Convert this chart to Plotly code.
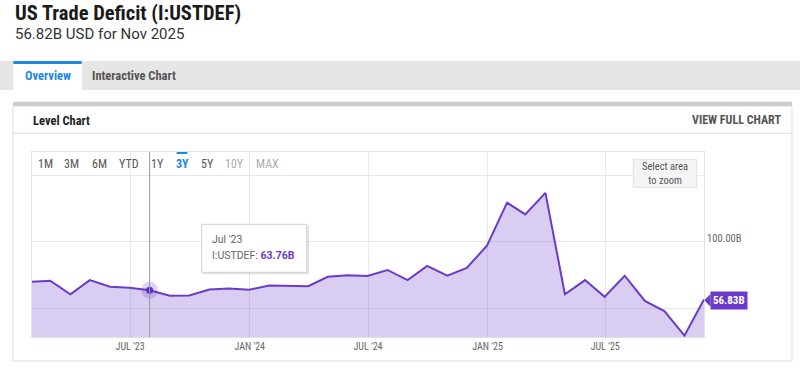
import plotly.graph_objects as go

# ---------------- data ----------------
dates = [
    "2023-01-31", "2023-02-28", "2023-03-31", "2023-04-30", "2023-05-31", "2023-06-30",
    "2023-07-31", "2023-08-31", "2023-09-30", "2023-10-31", "2023-11-30", "2023-12-31",
    "2024-01-31", "2024-02-29", "2024-03-31", "2024-04-30", "2024-05-31", "2024-06-30",
    "2024-07-31", "2024-08-31", "2024-09-30", "2024-10-31", "2024-11-30", "2024-12-31",
    "2025-01-31", "2025-02-28", "2025-03-31", "2025-04-30", "2025-05-31", "2025-06-30",
    "2025-07-31", "2025-08-31", "2025-09-30", "2025-10-31", "2025-11-30",
]
values = [
    70.2, 70.9, 60.8, 71.4, 66.4, 65.6,
    63.76, 59.6, 59.9, 64.4, 65.1, 64.1,
    67.4, 66.9, 66.8, 73.9, 75.1, 74.5,
    79.0, 71.4, 82.0, 74.7, 80.5, 97.2,
    129.5, 120.7, 136.8, 60.8, 71.4, 58.8,
    74.7, 55.8, 48.2, 29.8, 56.83,
]
x_tick_vals = ["2023-07-01", "2024-01-01", "2024-07-01", "2025-01-01", "2025-07-01"]
x_tick_text = ["JUL '23", "JAN '24", "JUL '24", "JAN '25", "JUL '25"]
y_tick_vals = [50, 100, 150]
y_tick_text = ["", "100.00B", ""]
range_buttons = ["1M", "3M", "6M", "YTD", "1Y", "3Y", "5Y", "10Y", "MAX"]
hover_index = 6
series_name = "I:USTDEF"

# ---------------- geometry / styles ----------------
W, H = 800, 369
L, R, T, B = 32, 704, 152, 337


def fx(p):
    return (p - L) / (R - L)


def fy(p):
    return (B - p) / (B - T)


COND = "Roboto Condensed, Liberation Sans Narrow, Arial Narrow, DejaVu Sans Condensed, Roboto, sans-serif"
ROB = "Roboto, Arial, sans-serif"
PURPLE = "#6a3bc8"
FILL = "rgba(110,62,200,0.26)"
BLUE = "#1e88e5"
GRID = "#e8e8e8"

fig = go.Figure()
fig.add_trace(go.Scatter(
    x=dates, y=values, mode="lines", name=series_name,
    line=dict(color=PURPLE, width=2), fill="tozeroy", fillcolor=FILL,
    hoverinfo="skip",
))
# hover halo and marker
fig.add_trace(go.Scatter(
    x=[dates[hover_index]], y=[values[hover_index]], mode="markers",
    marker=dict(size=17, color="rgba(106,59,200,0.22)", line=dict(width=0)),
    hoverinfo="skip", showlegend=False,
))
fig.add_trace(go.Scatter(
    x=[dates[hover_index]], y=[values[hover_index]], mode="markers",
    marker=dict(size=7, color="#5b2fc0", line=dict(width=0)),
    hoverinfo="skip", showlegend=False,
))

shapes = []
ann = []

# page chrome: tab band
shapes.append(dict(type="rect", xref="paper", yref="paper", x0=fx(0), x1=fx(800), y0=fy(61), y1=fy(90),
                   fillcolor="#e6e6e6", line=dict(width=0), layer="below"))
shapes.append(dict(type="rect", xref="paper", yref="paper", x0=fx(13.3), x1=fx(81.7), y0=fy(61), y1=fy(90),
                   fillcolor="white", line=dict(width=0), layer="below"))
shapes.append(dict(type="rect", xref="paper", yref="paper", x0=fx(13.3), x1=fx(81.7), y0=fy(61), y1=fy(64),
                   fillcolor=BLUE, line=dict(width=0), layer="below"))
# card
shapes.append(dict(type="rect", xref="paper", yref="paper", x0=fx(13), x1=fx(792), y0=fy(106), y1=fy(361),
                   fillcolor="rgba(0,0,0,0)", line=dict(color="#dddddd", width=1), layer="below"))
shapes.append(dict(type="rect", xref="paper", yref="paper", x0=fx(13), x1=fx(792), y0=fy(101.7), y1=fy(106),
                   fillcolor="#cccccc", line=dict(width=0), layer="below"))
shapes.append(dict(type="line", xref="paper", yref="paper", x0=fx(13), x1=fx(792), y0=fy(133.3), y1=fy(133.3),
                   line=dict(color="#dddddd", width=1), layer="below"))

# range selector active bar over 3Y
shapes.append(dict(type="rect", xref="paper", yref="paper", x0=fx(176.7), x1=fx(187.3), y0=fy(152), y1=fy(154),
                   fillcolor=BLUE, line=dict(width=0)))

# crosshair
shapes.append(dict(type="line", xref="x", yref="paper", x0=dates[hover_index], x1=dates[hover_index],
                   y0=0, y1=1, line=dict(color="#999999", width=1)))

# select area box
shapes.append(dict(type="rect", xref="paper", yref="paper", x0=fx(633.3), x1=fx(696.7), y0=fy(159.3), y1=fy(187.3),
                   fillcolor="#f4f6f6", line=dict(color="#e2e2e2", width=1)))

# tooltip (shadow + box)
shapes.append(dict(type="rect", xref="paper", yref="paper", x0=fx(203.5), x1=fx(309), y0=fy(226.5), y1=fy(274.5),
                   fillcolor="rgba(0,0,0,0.10)", line=dict(width=0)))
shapes.append(dict(type="rect", xref="paper", yref="paper", x0=fx(201.7), x1=fx(306.7), y0=fy(224.3), y1=fy(272.3),
                   fillcolor="white", line=dict(color="#d0d0d0", width=1)))

# last value flag arrow
shapes.append(dict(type="path", xref="paper", yref="paper",
                   path=f"M {fx(704.3)},{fy(300.3)} L {fx(710.5)},{fy(294)} L {fx(710.5)},{fy(306.7)} Z",
                   fillcolor=PURPLE, line=dict(width=0)))

# texts
ann.append(dict(text="<b>US Trade Deficit (I:USTDEF)</b>", x=fx(12.5), y=fy(13), xanchor="left", yanchor="middle",
                font=dict(family=COND, size=20.5, color="#1a1a1a")))
ann.append(dict(text="56.82B USD for Nov 2025", x=fx(12.5), y=fy(34), xanchor="left", yanchor="middle",
                font=dict(family=ROB, size=15, color="#333333")))
ann.append(dict(text="<b>Overview</b>", x=fx(47.5), y=fy(75.7), xanchor="center", yanchor="middle",
                font=dict(family=COND, size=12.5, color=BLUE)))
ann.append(dict(text="<b>Interactive Chart</b>", x=fx(134), y=fy(75.7), xanchor="center", yanchor="middle",
                font=dict(family=COND, size=12.5, color="#555555")))
ann.append(dict(text="<b>Level Chart</b>", x=fx(30.5), y=fy(120), xanchor="left", yanchor="middle",
                font=dict(family=COND, size=12.5, color="#222222")))
ann.append(dict(text="<b>VIEW FULL CHART</b>", x=fx(783), y=fy(120), xanchor="right", yanchor="middle",
                font=dict(family=COND, size=12, color="#555555")))

btn_x = [45, 71.7, 99.3, 128.7, 157.3, 182, 207, 234.7, 267]
for name, bx in zip(range_buttons, btn_x):
    if name == "3Y":
        col = BLUE
        txt = f"<b>{name}</b>"
    elif name in ("10Y", "MAX"):
        col = "#aaaaaa"
        txt = name
    else:
        col = "#555555"
        txt = name
    ann.append(dict(text=txt, x=fx(bx), y=fy(164.3), xanchor="center", yanchor="middle",
                    font=dict(family=COND, size=12, color=col)))

ann.append(dict(text="Select area<br>to zoom", x=fx(665), y=fy(173.3), xanchor="center", yanchor="middle",
                font=dict(family=COND, size=10.5, color="#555555")))

ann.append(dict(text="Jul '23", x=fx(210), y=fy(239.3), xanchor="left", yanchor="middle",
                font=dict(family=ROB, size=10.5, color="#666666")))
ann.append(dict(text=f"{series_name}: <b><span style='color:{PURPLE}'>{values[hover_index]:.2f}B</span></b>",
                x=fx(210), y=fy(255.7), xanchor="left", yanchor="middle",
                font=dict(family=ROB, size=10.5, color="#666666")))

ann.append(dict(text=f"<b>{values[-1]:.2f}B</b>", x=fx(710), y=fy(300.3), xanchor="left", yanchor="middle",
                bgcolor=PURPLE, borderpad=2, font=dict(family=COND, size=11, color="white")))

for a in ann:
    a.update(xref="paper", yref="paper", showarrow=False)

fig.update_layout(
    width=W, height=H,
    margin=dict(l=L, r=W - R, t=T, b=H - B, pad=0),
    paper_bgcolor="white", plot_bgcolor="white",
    showlegend=False,
    shapes=shapes, annotations=ann,
    xaxis=dict(
        type="date", range=[dates[0], dates[-1]],
        tickvals=x_tick_vals, ticktext=x_tick_text,
        showgrid=True, gridcolor=GRID, gridwidth=1,
        showline=True, linecolor="#e2e2e2", mirror=True, zeroline=False,
        ticks="", tickfont=dict(family=COND, size=10, color="#666666"),
    ),
    yaxis=dict(
        range=[28.7, 167.5], side="right",
        tickvals=y_tick_vals, ticktext=y_tick_text,
        showgrid=True, gridcolor=GRID, gridwidth=1,
        showline=True, linecolor="#e2e2e2", mirror=True, zeroline=False,
        ticks="", ticklabelposition="outside top", ticklabelshift=4,
        tickfont=dict(family=COND, size=10.5, color="#666666"),
    ),
)

fig.write_html(
    "out.html",
    config={"displayModeBar": False},
    post_script="document.body.style.margin='0';document.body.style.overflow='hidden';",
)
